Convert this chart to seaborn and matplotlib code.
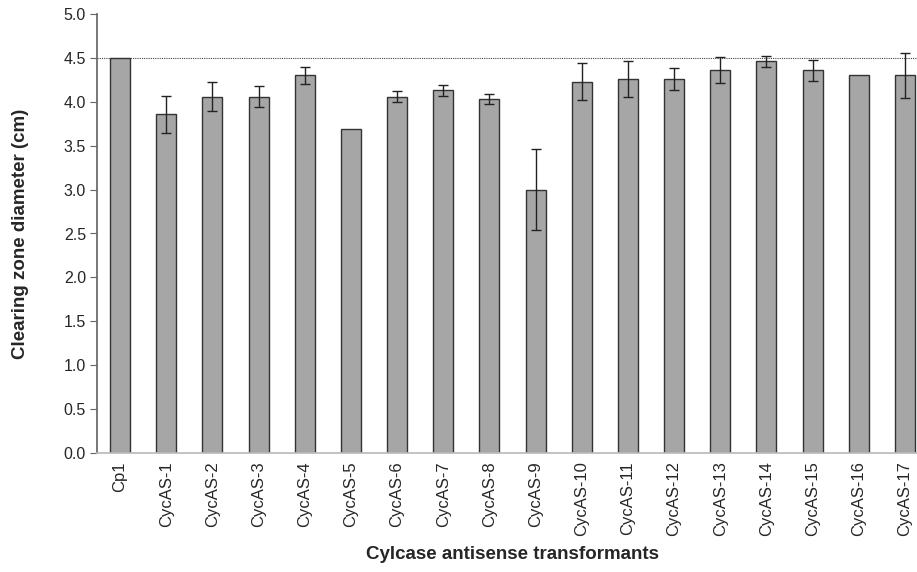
import matplotlib
matplotlib.use("Agg")
import matplotlib.pyplot as plt
import seaborn as sns
import numpy as np
import pandas as pd

categories = ["Cp1"] + [f"CycAS-{i}" for i in range(1, 18)]
values = [4.50, 3.86, 4.06, 4.06, 4.30, 3.69, 4.06, 4.13, 4.03, 3.00,
          4.23, 4.26, 4.26, 4.36, 4.46, 4.36, 4.30, 4.30]
errors = [0.00, 0.21, 0.16, 0.12, 0.10, 0.00, 0.06, 0.06, 0.06, 0.46,
          0.21, 0.21, 0.12, 0.15, 0.06, 0.12, 0.00, 0.26]
yticks = [0.0, 0.5, 1.0, 1.5, 2.0, 2.5, 3.0, 3.5, 4.0, 4.5, 5.0]
reference_level = 4.5

sns.set_theme(style="white")
plt.rcParams['font.family'] = ['Liberation Sans', 'DejaVu Sans']

df = pd.DataFrame({"cat": categories, "val": values, "err": errors})

fig = plt.figure(figsize=(9.17, 5.72), dpi=100)
ax = fig.add_axes([97/917, (572-453)/572, (928-97)/917, (453-14)/572])

sns.barplot(data=df, x="cat", y="val", color="#a6a6a6", edgecolor="#333333",
            linewidth=1.0, width=0.43, saturation=1, ax=ax, errorbar=None)

mask = df["err"] > 0
xs = np.arange(len(df))[mask.values]
ax.errorbar(xs, df["val"][mask], yerr=df["err"][mask], fmt="none",
            ecolor="#222222", elinewidth=1.0, capsize=3.5, capthick=1.0)

ax.axhline(reference_level, color="#444444", linestyle=(0, (1, 1)), linewidth=0.8, zorder=0)

ax.set_xlim(-0.5, len(df) - 0.5)
ax.set_ylim(0, 5.0)
ax.set_yticks(yticks)
ax.set_yticklabels([f"{t:.1f}" for t in yticks], fontsize=11.5)
ax.set_xticks(range(len(df)))
ax.set_xticklabels(categories, rotation=90, fontsize=12)

for s in ["top", "right"]:
    ax.spines[s].set_visible(False)
ax.spines["left"].set_color("#666666")
ax.spines["bottom"].set_color("#bbbbbb")
ax.tick_params(axis="y", left=True, length=5, width=0.8, color="#666666", pad=3)
ax.tick_params(axis="x", bottom=False, length=0, pad=6)

ax.set_ylabel("Clearing zone diameter (cm)", fontsize=13.5, fontweight="bold", labelpad=25)
ax.set_xlabel("Cylcase antisense transformants", fontsize=13.5, fontweight="bold", labelpad=7)

fig.savefig("out.png", dpi=100)
